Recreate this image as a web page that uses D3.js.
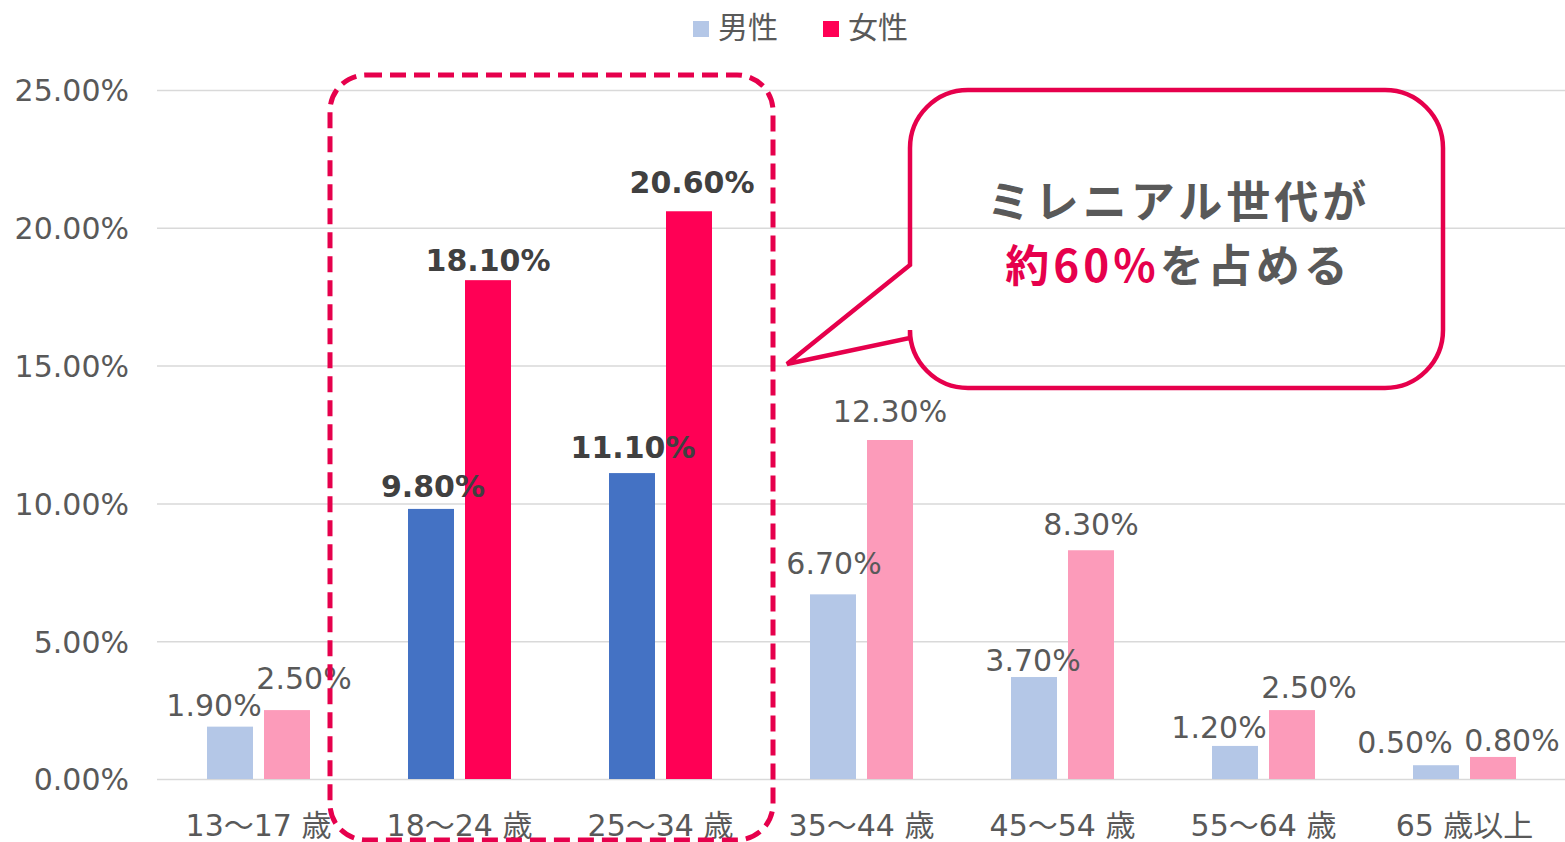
<!DOCTYPE html>
<html>
<head>
<meta charset="utf-8">
<script src="https://cdn.jsdelivr.net/npm/d3@7"></script>
<style>
  body { margin: 0; background: #fff; }
  svg text { font-family: "DejaVu Sans", "Noto Sans CJK JP", sans-serif; }
</style>
</head>
<body>
<div id="chart"></div>
<script>
// data
const categories = ["13～17 歳", "18～24 歳", "25～34 歳", "35～44 歳", "45～54 歳", "55～64 歳", "65 歳以上"];
const series = ["男性", "女性"];
const maleValues = [1.9, 9.8, 11.1, 6.7, 3.7, 1.2, 0.5];
const femaleValues = [2.5, 18.1, 20.6, 12.3, 8.3, 2.5, 0.8];
const highlighted = ["18～24 歳", "25～34 歳"];
const yTicks = [0, 5, 10, 15, 20, 25];
const calloutLine1 = "ミレニアル世代が";
const calloutLine2a = "約60%";
const calloutLine2b = "を占める";

// label nudges (dx, gap above bar) - labels were hand placed in the original
const maleNudge = [[-16, 11], [2, 12], [1, 15], [1, 20], [-1, 6], [-16, 8], [-31, 12]];
const femaleNudge = [[17, 21], [0, 9], [3, 18], [0, 18], [0, 15], [17, 12], [19, 6]];

const W = 1565, H = 842;
const fontSize = "30px";
const colors = {
    "男性": { light: "#B4C7E7", dark: "#4472C4" },
    "女性": { light: "#FC9BBA", dark: "#FF0055" }
};
const accent = "#E6004C";

const svg = d3.select("#chart").append("svg")
    .attr("width", W)
    .attr("height", H);

const x = d3.scaleBand()
    .domain(categories)
    .range([158, 1565])
    .paddingInner(0);

const bw = x.bandwidth();
const x1 = d3.scaleBand()
    .domain(series)
    .range([bw / 2 - 51.5, bw / 2 + 51.5])
    .paddingInner(0.193);

const y = d3.scaleLinear()
    .domain([0, 25])
    .range([779, 90]);

// gridlines + y labels
const yAxis = d3.axisLeft(y)
    .tickValues(yTicks)
    .tickSize(-(1565 - 157))
    .tickPadding(28)
    .tickFormat(d => d.toFixed(2) + "%");

const gy = svg.append("g")
    .attr("class", "y-axis")
    .attr("transform", "translate(157,0)")
    .call(yAxis);
gy.select(".domain").remove();
gy.selectAll("line").attr("stroke", "#D9D9D9").attr("stroke-width", 1.5);
gy.selectAll("text")
    .attr("fill", "#595959")
    .style("font-size", fontSize)
    .attr("dy", "0.36em");

// x labels
const xAxis = d3.axisBottom(x).tickSize(0).tickPadding(0);
const gx = svg.append("g")
    .attr("class", "x-axis")
    .attr("transform", "translate(0,836)")
    .call(xAxis);
gx.select(".domain").remove();
gx.selectAll("text")
    .attr("fill", "#595959")
    .attr("dy", 0)
    .style("font-size", fontSize);

// bars
const rows = categories.map((c, i) => ({
    cat: c,
    i: i,
    vals: [
        { s: "男性", v: maleValues[i], nudge: maleNudge[i] },
        { s: "女性", v: femaleValues[i], nudge: femaleNudge[i] }
    ]
}));

const groups = svg.selectAll(".grp")
    .data(rows)
    .enter().append("g")
    .attr("class", "grp")
    .attr("transform", d => "translate(" + x(d.cat) + ",0)");

groups.selectAll("rect")
    .data(d => d.vals.map(v => Object.assign({ hi: highlighted.includes(d.cat) }, v)))
    .enter().append("rect")
    .attr("x", d => x1(d.s))
    .attr("y", d => y(d.v))
    .attr("width", x1.bandwidth())
    .attr("height", d => y(0) - y(d.v))
    .attr("fill", d => d.hi ? colors[d.s].dark : colors[d.s].light);

groups.selectAll("text.lbl")
    .data(d => d.vals.map(v => Object.assign({ hi: highlighted.includes(d.cat) }, v)))
    .enter().append("text")
    .attr("class", "lbl")
    .attr("x", d => x1(d.s) + x1.bandwidth() / 2 + d.nudge[0])
    .attr("y", d => y(d.v) - d.nudge[1])
    .attr("text-anchor", "middle")
    .style("font-size", fontSize)
    .style("font-weight", d => d.hi ? "bold" : "normal")
    .attr("fill", d => d.hi ? "#404040" : "#595959")
    .text(d => d.v.toFixed(2) + "%");

// legend
const legend = svg.append("g").attr("class", "legend");
const legendX = [693, 823];
series.forEach((s, i) => {
    legend.append("rect")
        .attr("x", legendX[i])
        .attr("y", 21)
        .attr("width", 16)
        .attr("height", 16)
        .attr("fill", i === 0 ? colors[s].light : colors[s].dark);
    legend.append("text")
        .attr("x", legendX[i] + 25)
        .attr("y", 38)
        .attr("fill", "#595959")
        .style("font-size", fontSize)
        .text(s);
});

// dashed highlight box
svg.append("rect")
    .attr("x", 330)
    .attr("y", 75)
    .attr("width", 443)
    .attr("height", 765)
    .attr("rx", 36)
    .attr("fill", "none")
    .attr("stroke", accent)
    .attr("stroke-width", 5)
    .attr("stroke-dasharray", "16,8");

// callout bubble
const bx0 = 910, bx1 = 1443, by0 = 90, by1 = 388, r = 58;
const p = d3.path();
p.moveTo(bx0 + r, by0);
p.lineTo(bx1 - r, by0);
p.arcTo(bx1, by0, bx1, by0 + r, r);
p.lineTo(bx1, by1 - r);
p.arcTo(bx1, by1, bx1 - r, by1, r);
p.lineTo(bx0 + r, by1);
p.arcTo(bx0, by1, bx0, by1 - r, r);
p.lineTo(bx0, 338);
p.lineTo(787, 364);
p.lineTo(bx0, 265);
p.lineTo(bx0, by0 + r);
p.arcTo(bx0, by0, bx0 + r, by0, r);
p.closePath();

svg.append("path")
    .attr("d", p.toString())
    .attr("fill", "none")
    .attr("stroke", accent)
    .attr("stroke-width", 4.5)
    .attr("stroke-linejoin", "miter");

const cx = (bx0 + bx1) / 2 + 2;
svg.append("text")
    .attr("x", cx)
    .attr("y", 218)
    .attr("text-anchor", "middle")
    .style("font-family", "'Noto Sans CJK JP', sans-serif")
    .style("font-size", "44px")
    .style("font-weight", "bold")
    .style("letter-spacing", "4px")
    .attr("fill", "#595959")
    .text(calloutLine1);

const t2 = svg.append("text")
    .attr("x", cx)
    .attr("y", 282)
    .attr("text-anchor", "middle")
    .style("font-family", "'Noto Sans CJK JP', sans-serif")
    .style("font-size", "44px")
    .style("font-weight", "bold")
    .style("letter-spacing", "4px");
t2.append("tspan").attr("fill", accent).text(calloutLine2a);
t2.append("tspan").attr("fill", "#595959").text(calloutLine2b);
</script>
</body>
</html>
